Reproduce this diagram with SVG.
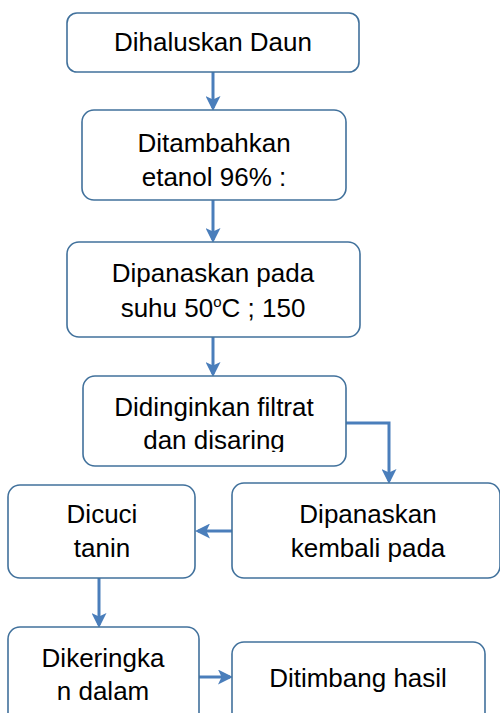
<svg xmlns="http://www.w3.org/2000/svg" width="500" height="713" viewBox="0 0 500 713">
<style>
.box{fill:#fff;stroke:#41719C;stroke-width:1.6}
.t{font-family:"Liberation Sans",Arial,sans-serif;font-size:26px;fill:#000;text-anchor:middle}
.c{fill:none;stroke:#4A7EBB;stroke-width:3}
</style>
<defs>
<marker id="ah" markerWidth="5" markerHeight="5" refX="4" refY="2.5" orient="auto" markerUnits="strokeWidth">
<path d="M0,0 L5,2.5 L0,5 L1.2,2.5 Z" fill="#4A7EBB"/>
</marker>
<clipPath id="clip4"><rect x="80" y="370" width="270" height="82"/></clipPath>
</defs>
<g id="connectors">
<path class="c" d="M213,72 V108" marker-end="url(#ah)"/>
<path class="c" d="M213,200 V240" marker-end="url(#ah)"/>
<path class="c" d="M213,337 V374" marker-end="url(#ah)"/>
<path class="c" d="M346,423 H389 V481" marker-end="url(#ah)"/>
<path class="c" d="M232,531 H198" marker-end="url(#ah)"/>
<path class="c" d="M99,578 V625" marker-end="url(#ah)"/>
<path class="c" d="M199,677 H230" marker-end="url(#ah)"/>
</g>
<g id="n1"><rect class="box" x="67" y="13" width="292" height="59" rx="10"/><text class="t" x="213" y="51">Dihaluskan Daun</text></g>
<g id="n2"><rect class="box" x="82" y="110" width="264" height="90" rx="12"/><text class="t" x="214" y="152">Ditambahkan</text><text class="t" x="214" y="186">etanol 96% :</text></g>
<g id="n3"><rect class="box" x="67" y="242" width="293" height="95" rx="12"/><text class="t" x="213" y="282">Dipanaskan pada</text><text class="t" x="213" y="317">suhu 50<tspan font-size="15" dy="-10">o</tspan><tspan dy="10">C ; 150</tspan></text></g>
<g id="n4"><rect class="box" x="83" y="376" width="263" height="90" rx="12"/><text class="t" x="214" y="416">Didinginkan filtrat</text><text class="t" x="214" y="449" clip-path="url(#clip4)">dan disaring</text></g>
<g id="n5"><rect class="box" x="232" y="483" width="268" height="95" rx="12"/><text class="t" x="368" y="523">Dipanaskan</text><text class="t" x="368" y="557">kembali pada</text></g>
<g id="n6"><rect class="box" x="8" y="485" width="187" height="93" rx="12"/><text class="t" x="102" y="523">Dicuci</text><text class="t" x="102" y="557">tanin</text></g>
<g id="n7"><rect class="box" x="8" y="627" width="191" height="100" rx="12"/><text class="t" x="103" y="667">Dikeringka</text><text class="t" x="103" y="700">n dalam</text></g>
<g id="n8"><rect class="box" x="232" y="642" width="253" height="85" rx="12"/><text class="t" x="358" y="687">Ditimbang hasil</text></g>
</svg>
